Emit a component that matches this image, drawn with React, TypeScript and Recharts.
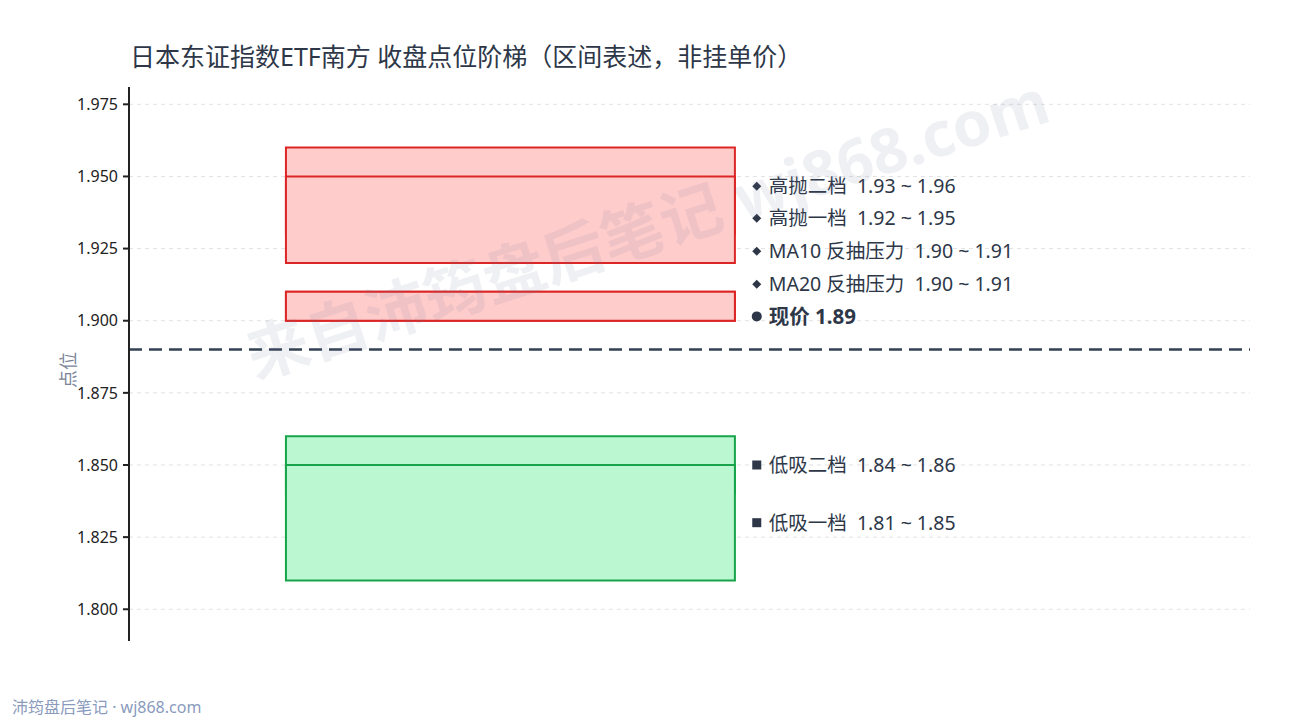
import React from "react";
import {
  ComposedChart,
  XAxis,
  YAxis,
  CartesianGrid,
  ReferenceArea,
  ReferenceLine,
  ReferenceDot,
  Line,
} from "recharts";

const TITLE = "日本东证指数ETF南方 收盘点位阶梯（区间表述，非挂单价）";
const Y_LABEL = "点位";
const FOOTER = "沛筠盘后笔记 · wj868.com";
const WATERMARK = "来自沛筠盘后笔记 wj868.com";

// zones, in draw order (later ones cover earlier ones)
const zoneNames = ["高抛二档", "高抛一档", "MA10 反抽压力", "MA20 反抽压力", "低吸二档", "低吸一档"];
const zoneLow = [1.93, 1.92, 1.9, 1.9, 1.84, 1.81];
const zoneHigh = [1.96, 1.95, 1.91, 1.91, 1.86, 1.85];
const zoneKind = ["sell", "sell", "sell", "sell", "buy", "buy"];

const currentPrice = 1.89;

// label anchor values (after collision spacing)
const labelNames = ["高抛二档", "高抛一档", "MA10 反抽压力", "MA20 反抽压力", "现价", "低吸二档", "低吸一档"];
const labelTexts = [
  "高抛二档  1.93 ~ 1.96",
  "高抛一档  1.92 ~ 1.95",
  "MA10 反抽压力  1.90 ~ 1.91",
  "MA20 反抽压力  1.90 ~ 1.91",
  "现价 1.89",
  "低吸二档  1.84 ~ 1.86",
  "低吸一档  1.81 ~ 1.85",
];
const labelValues = [1.9466, 1.9355, 1.9241, 1.9126, 1.9015, 1.85, 1.83];
const labelMarkers = ["diamond", "diamond", "diamond", "diamond", "circle", "square", "square"];

const yTicks = [1.8, 1.825, 1.85, 1.875, 1.9, 1.925, 1.95, 1.975];
const yDomain = [1.789, 1.981];

const BOX_X1 = 0.14;
const BOX_X2 = 0.5405;
const LABEL_X = 0.56;

const FONT = "'Noto Sans', 'Noto Sans CJK SC', sans-serif";
const TEXT_COLOR = "#2d3748";

const dummy = [{ x: 0, y: 1.9 }, { x: 1, y: 1.9 }];

const LabelShape = (props: any) => {
  const { cx, cy, idx } = props;
  const marker = labelMarkers[idx];
  const bold = marker === "circle";
  let m: React.ReactNode = null;
  if (marker === "diamond") {
    m = (
      <path
        d={`M${cx},${cy - 4.5} L${cx + 4.5},${cy} L${cx},${cy + 4.5} L${cx - 4.5},${cy} Z`}
        fill={TEXT_COLOR}
      />
    );
  } else if (marker === "circle") {
    m = <circle cx={cx} cy={cy} r={5} fill={TEXT_COLOR} />;
  } else {
    m = <rect x={cx - 4.5} y={cy - 4.5} width={9} height={9} fill={TEXT_COLOR} />;
  }
  return (
    <g>
      {m}
      <text
        x={cx + 12}
        y={cy}
        dy="0.35em"
        fontSize={bold ? 20.5 : 19.5}
        fontWeight={bold ? 700 : 400}
        fill={TEXT_COLOR}
        fontFamily={FONT}
        style={{ whiteSpace: "pre" }}
        xmlSpace="preserve"
      >
        {labelTexts[idx]}
      </text>
    </g>
  );
};

const gridGen = (args: any) => {
  const yAxis = args?.yAxis;
  const offset = args?.offset || { top: 87, height: 554 };
  return yTicks.map((t) => {
    if (yAxis && typeof yAxis.scale === "function") return yAxis.scale(t);
    return offset.top + ((yDomain[1] - t) / (yDomain[1] - yDomain[0])) * offset.height;
  });
};

export default function App() {
  return (
    <div style={{ position: "absolute", left: 0, top: 0, width: 1290, height: 720, background: "#fff", fontFamily: FONT }}>
      <ComposedChart
        width={1290}
        height={720}
        data={dummy}
        margin={{ top: 87, right: 40, bottom: 79, left: 69 }}
      >
        <CartesianGrid
          horizontal
          vertical={false}
          stroke="#e2e2e2"
          strokeDasharray="4 4"
          horizontalCoordinatesGenerator={gridGen}
        />
        <XAxis dataKey="x" type="number" domain={[0, 1]} hide />
        <YAxis
          type="number"
          domain={yDomain}
          ticks={yTicks}
          allowDataOverflow
          width={60}
          tickFormatter={(v: number) => v.toFixed(3)}
          tick={{ fontSize: 16, fill: "#222", fontFamily: FONT, dx: -3 }}
          tickSize={6}
          tickLine={{ stroke: "#222", strokeWidth: 2 }}
          axisLine={{ stroke: "#222", strokeWidth: 2 }}
        />
        <Line dataKey="y" stroke="none" dot={false} activeDot={false} isAnimationActive={false} legendType="none" />
        {zoneNames.map((n, i) => (
          <ReferenceArea
            key={n + i}
            x1={BOX_X1}
            x2={BOX_X2}
            y1={zoneLow[i]}
            y2={zoneHigh[i]}
            fill={zoneKind[i] === "sell" ? "#ffcccc" : "#bbf7d0"}
            fillOpacity={1}
            stroke={zoneKind[i] === "sell" ? "#dc2626" : "#16a34a"}
            strokeWidth={2}
            ifOverflow="visible"
          />
        ))}
        <ReferenceLine y={currentPrice} stroke="#334155" strokeWidth={2.5} strokeDasharray="13 7" />
        {labelNames.map((n, i) => (
          <ReferenceDot
            key={"l" + i}
            x={LABEL_X}
            y={labelValues[i]}
            r={0}
            ifOverflow="visible"
            shape={(p: any) => <LabelShape {...p} idx={i} />}
          />
        ))}
      </ComposedChart>

      {/* watermark */}
      <svg width={1290} height={720} style={{ position: "absolute", left: 0, top: 0, pointerEvents: "none" }}>
        <text
          x={647}
          y={227}
          textAnchor="middle"
          dominantBaseline="central"
          transform="rotate(-18 647 227)"
          fontSize={62}
          fontWeight={700}
          fill="#6a7594"
          fillOpacity={0.11}
          fontFamily={FONT}
        >
          {WATERMARK}
        </text>
        <text
          x={68}
          y={370}
          textAnchor="middle"
          dominantBaseline="central"
          transform="rotate(-90 68 370)"
          fontSize={18}
          fill="#7b8599"
          fontFamily={FONT}
        >
          {Y_LABEL}
        </text>
      </svg>

      <div
        style={{
          position: "absolute",
          left: 130,
          top: 38,
          fontSize: 25,
          color: TEXT_COLOR,
          lineHeight: "36px",
          whiteSpace: "nowrap",
        }}
      >
        {TITLE}
      </div>
      <div
        style={{
          position: "absolute",
          left: 12,
          top: 696,
          fontSize: 16,
          color: "#8a9bbd",
          lineHeight: "22px",
          whiteSpace: "pre",
        }}
      >
        {FOOTER}
      </div>
    </div>
  );
}
